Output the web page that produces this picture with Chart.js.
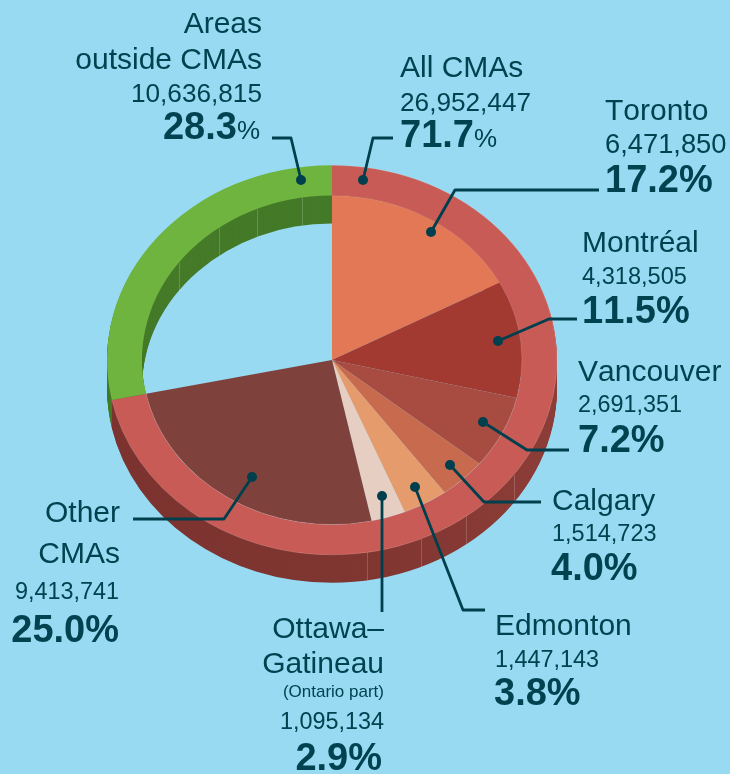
<!DOCTYPE html>
<html>
<head>
<meta charset="utf-8">
<title>Population by CMA</title>
<script src="https://cdn.jsdelivr.net/npm/chart.js@4"></script>
<style>
  html, body { margin: 0; padding: 0; background: #97daf2; }
  canvas { display: block; }
</style>
</head>
<body>
<canvas id="pieChart" width="730" height="774"></canvas>
<script>
// Outer ring
var ringNames = ['All CMAs', 'Areas outside CMAs']
var ringPopulation = [26952447, 10636815]
var ringShares = ['71.7', '28.3']

// Inner slices, the last one stays empty (areas outside CMAs)
var cityNames = ['Toronto', 'Montréal', 'Vancouver', 'Calgary', 'Edmonton', 'Ottawa–Gatineau', 'Other CMAs', 'Areas outside CMAs']
var cityPopulation = [6471850, 4318505, 2691351, 1514723, 1447143, 1095134, 9413741, 10636815]
var cityShares = ['17.2', '11.5', '7.2', '4.0', '3.8', '2.9', '25.0']

var ringColors = ['#c85b55', '#6eb43f']
var cityColors = ['#e27856', '#a23a32', '#a84c42', '#c76a4d', '#e59b6b', '#e6cfc2', '#7f413b', 'rgba(0,0,0,0)']

var textColor = '#00424f'
var lineColor = '#003f4d'
var fontName = '"Liberation Sans", Arial, sans-serif'

var tilt = 0.866
var depth = 28
var seamAngles = [9, 23.3, 36.4, 53.8]

// Text blocks: align, x, then baselines for each piece
function money(n){ return n.toLocaleString('en-US') }

var labelBlocks = [
  { align: 'right', x: 262, name: ['Areas', 'outside CMAs'], nameY: [33, 69], num: money(ringPopulation[1]), numY: 102, numSize: 26.2, pct: ringShares[1], pctX: 260, pctY: 139, smallPct: true },
  { align: 'left', x: 400, name: ['All CMAs'], nameY: [77], num: money(ringPopulation[0]), numY: 111, numSize: 26.2, pct: ringShares[0], pctX: 400, pctY: 147, smallPct: true },
  { align: 'left', x: 605, name: ['Toronto'], nameY: [120], num: money(cityPopulation[0]), numY: 153, numSize: 27.3, pct: cityShares[0], pctX: 605, pctY: 192 },
  { align: 'left', x: 582, name: ['Montréal'], nameY: [252], num: money(cityPopulation[1]), numY: 284, numSize: 23.6, pct: cityShares[1], pctX: 582, pctY: 323 },
  { align: 'left', x: 578, name: ['Vancouver'], nameY: [381], num: money(cityPopulation[2]), numY: 412, numSize: 23.4, pct: cityShares[2], pctX: 578, pctY: 452 },
  { align: 'left', x: 552, name: ['Calgary'], nameY: [510], num: money(cityPopulation[3]), numY: 541, numSize: 23.5, pct: cityShares[3], pctX: 551, pctY: 580 },
  { align: 'left', x: 495, name: ['Edmonton'], nameY: [635], num: money(cityPopulation[4]), numY: 667, numSize: 23.4, pct: cityShares[4], pctX: 494, pctY: 705 },
  { align: 'right', x: 384, name: ['Ottawa–', 'Gatineau'], nameY: [638, 673], note: '(Ontario part)', noteY: 697, num: money(cityPopulation[5]), numY: 729, numSize: 23.4, pct: cityShares[5], pctX: 382, pctY: 770 },
  { align: 'right', x: 120, name: ['Other', 'CMAs'], nameY: [522, 563], num: money(cityPopulation[6]), numY: 599, numSize: 23.4, numX: 119, pct: cityShares[6], pctX: 119, pctY: 642 }
]

// Leader lines, last point gets the dot
var leaders = [
  [[272, 138], [291, 138], [301, 180]],
  [[393, 138], [373, 138], [363, 180]],
  [[599, 190], [455, 190], [431, 232]],
  [[577, 319], [549, 319], [498, 341]],
  [[569, 450], [527, 450], [483, 422]],
  [[541, 502], [484, 502], [450, 465]],
  [[485, 610], [463, 610], [415, 487]],
  [[382, 612], [382, 496]],
  [[133, 519], [224, 519], [252, 477]]
]

function applyTilt(ctx, x, y){
  ctx.translate(x, y)
  ctx.scale(1, tilt)
  ctx.translate(-x, -y)
}

function sectorPath(ctx, a){
  ctx.beginPath()
  ctx.arc(a.x, a.y, a.outerRadius, a.startAngle, a.endAngle)
  ctx.arc(a.x, a.y, a.innerRadius, a.endAngle, a.startAngle, true)
  ctx.closePath()
}

var arcProps = ['x', 'y', 'startAngle', 'endAngle', 'innerRadius', 'outerRadius']

var tiltPlugin = {
  id: 'tilt',
  beforeDatasetsDraw: function(chart){
    var ctx = chart.ctx
    var ring = chart.getDatasetMeta(0).data
    var red = ring[0].getProps(arcProps)
    var green = ring[1].getProps(arcProps)

    var redSide = ctx.createLinearGradient(107, 0, 557, 0)
    redSide.addColorStop(0, '#7c332f')
    redSide.addColorStop(0.55, '#7f3530')
    redSide.addColorStop(1, '#8d3d38')

    // Walls: the ring repeated downwards, green first so that red sits over it
    ctx.save()
    applyTilt(ctx, red.x, red.y)
    for (var d = depth; d >= 1; d--) {
      ctx.save()
      ctx.translate(0, d / tilt)
      ctx.fillStyle = '#447a28'
      sectorPath(ctx, green)
      ctx.fill()
      ctx.restore()
    }
    for (var d = depth; d >= 1; d--) {
      ctx.save()
      ctx.translate(0, d / tilt)
      ctx.fillStyle = redSide
      sectorPath(ctx, red)
      ctx.fill()
      ctx.restore()
    }
    ctx.restore()

    // Thin seams on the walls
    ctx.strokeStyle = 'rgba(255,255,255,0.18)'
    ctx.lineWidth = 1
    seamAngles.forEach(function(deg){
      var t = deg * Math.PI / 180
      var outerX = Math.round(red.x + red.outerRadius * Math.sin(t)) + 0.5
      var outerY = red.y + tilt * red.outerRadius * Math.cos(t)
      ctx.beginPath()
      ctx.moveTo(outerX, outerY)
      ctx.lineTo(outerX, outerY + depth)
      ctx.stroke()
      var innerX = Math.round(green.x - green.innerRadius * Math.sin(t)) + 0.5
      var innerY = green.y - tilt * green.innerRadius * Math.cos(t)
      ctx.beginPath()
      ctx.moveTo(innerX, innerY)
      ctx.lineTo(innerX, innerY + depth)
      ctx.stroke()
    })

    ctx.save()
    applyTilt(ctx, red.x, red.y)
  },
  afterDatasetsDraw: function(chart){
    var ctx = chart.ctx
    var a = chart.getDatasetMeta(0).data[0].getProps(arcProps)

    // Faint light edge along the red ring
    ctx.strokeStyle = 'rgba(255,255,255,0.2)'
    ctx.lineWidth = 0.8
    ctx.beginPath()
    ctx.arc(a.x, a.y, a.outerRadius, a.startAngle, a.endAngle)
    ctx.stroke()
    ctx.beginPath()
    ctx.arc(a.x, a.y, a.innerRadius, a.startAngle, a.endAngle)
    ctx.stroke()
    ctx.restore()
  },
  afterDraw: function(chart){
    var ctx = chart.ctx
    ctx.save()

    // Leaders
    ctx.strokeStyle = lineColor
    ctx.fillStyle = lineColor
    ctx.lineWidth = 2.8
    ctx.lineJoin = 'round'
    leaders.forEach(function(pts){
      ctx.beginPath()
      pts.forEach(function(p, i){
        if (i == 0) ctx.moveTo(p[0], p[1])
        else ctx.lineTo(p[0], p[1])
      })
      ctx.stroke()
      var end = pts[pts.length - 1]
      ctx.beginPath()
      ctx.arc(end[0], end[1], 5, 0, Math.PI * 2)
      ctx.fill()
    })

    // Labels
    ctx.fillStyle = textColor
    ctx.textBaseline = 'alphabetic'
    ctx.fontKerning = 'none'
    labelBlocks.forEach(function(b){
      ctx.textAlign = b.align
      ctx.font = '30px ' + fontName
      b.name.forEach(function(line, i){
        ctx.fillText(line, b.x, b.nameY[i])
      })
      if (b.note) {
        ctx.font = '17px ' + fontName
        ctx.fillText(b.note, b.x, b.noteY)
      }
      ctx.font = b.numSize + 'px ' + fontName
      ctx.fillText(b.num, b.numX || b.x, b.numY)
      if (b.smallPct) {
        // Ring shares: small, light percent sign
        ctx.font = '26px ' + fontName
        var signWidth = ctx.measureText('%').width
        ctx.font = 'bold 38px ' + fontName
        var numWidth = ctx.measureText(b.pct).width
        var left = b.align == 'right' ? b.pctX - signWidth - numWidth : b.pctX
        ctx.textAlign = 'left'
        ctx.fillText(b.pct, left, b.pctY)
        ctx.font = '26px ' + fontName
        ctx.fillText('%', left + numWidth, b.pctY)
      } else {
        ctx.font = 'bold 38px ' + fontName
        ctx.fillText(b.pct + '%', b.pctX, b.pctY)
      }
    })
    ctx.restore()
  }
}

var pieChart = new Chart(document.getElementById('pieChart'), {
  type: 'pie',
  data: {
    labels: cityNames,
    datasets: [
      {
        label: 'Ring',
        data: ringPopulation,
        backgroundColor: ringColors,
        borderWidth: 0,
        weight: 35
      },
      {
        label: 'CMAs',
        data: cityPopulation,
        backgroundColor: cityColors,
        borderWidth: 0,
        weight: 190
      }
    ]
  },
  options: {
    responsive: false,
    animation: false,
    events: [],
    layout: {
      padding: { left: 107, right: 173, top: 135, bottom: 189 }
    },
    plugins: {
      legend: { display: false },
      title: { display: false },
      tooltip: { enabled: false }
    }
  },
  plugins: [tiltPlugin]
})
</script>
</body>
</html>
